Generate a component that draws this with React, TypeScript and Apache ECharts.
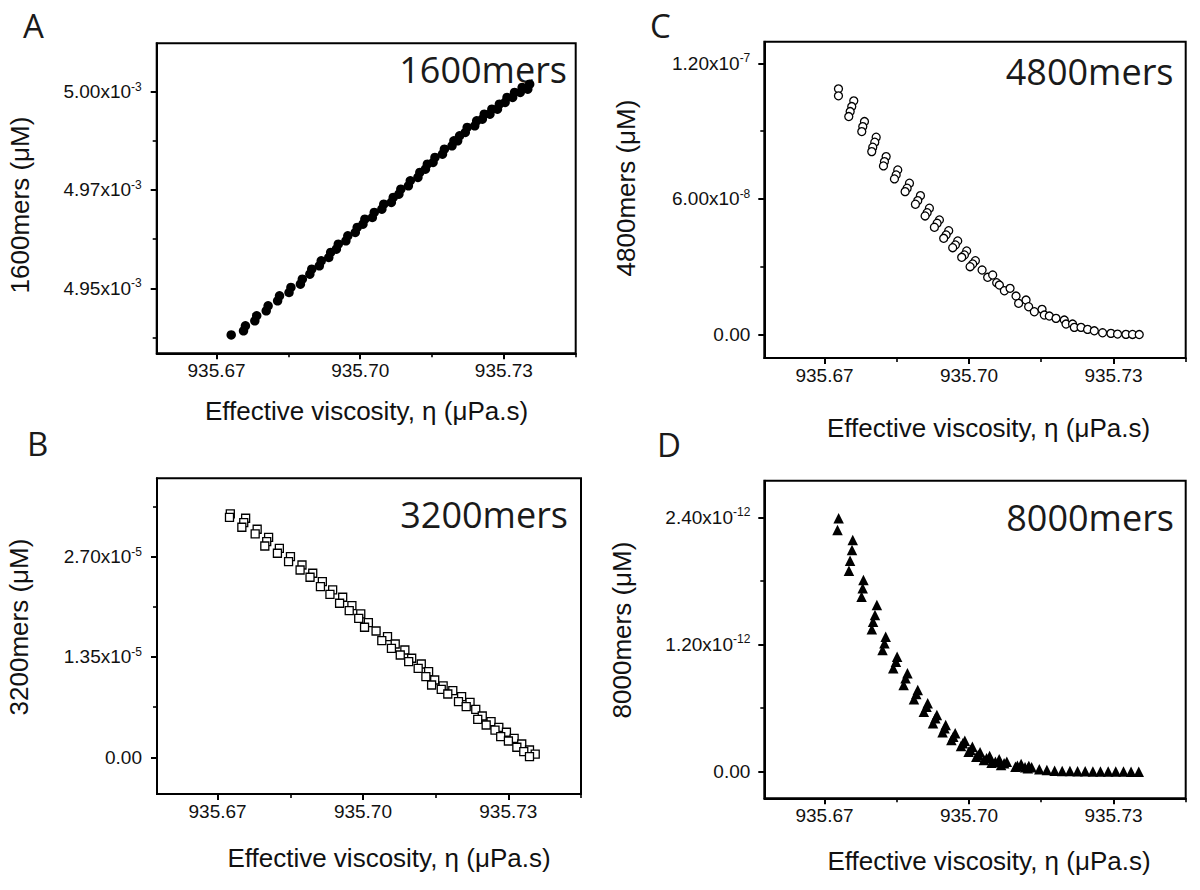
import React, { useEffect, useRef } from "react";
import * as echarts from "echarts";

// ---------- shared axis data ----------
const X_MIN = 935.6575;
const X_MAX = 935.745;
const X_MAJOR = [935.67, 935.7, 935.73];
const X_MINOR = [935.685, 935.715, 935.745];
const X_TITLE = "Effective viscosity, η (μPa.s)";

// ---------- panel A : 1600mers ----------
const A_x = [935.67306, 935.67563, 935.67603, 935.67799, 935.67839, 935.68037, 935.68077, 935.68275, 935.68315, 935.68513, 935.68553, 935.68751, 935.68791, 935.68948, 935.68988, 935.69146, 935.69186, 935.69343, 935.69383, 935.69502, 935.69542, 935.69701, 935.69741, 935.69897, 935.69937, 935.70057, 935.70097, 935.70253, 935.70293, 935.70452, 935.70492, 935.7065, 935.7069, 935.70808, 935.70848, 935.71006, 935.71046, 935.71205, 935.71245, 935.71362, 935.71402, 935.71521, 935.71561, 935.71718, 935.71758, 935.71917, 935.71957, 935.72035, 935.72075, 935.72194, 935.72234, 935.72392, 935.72432, 935.7255, 935.7259, 935.72709, 935.72749, 935.72866, 935.72906, 935.73026, 935.73066, 935.73183, 935.73223, 935.73342, 935.73382, 935.73499, 935.73539];
const A_y = [4.93813e-3, 4.93919e-3, 4.94047e-3, 4.94174e-3, 4.94302e-3, 4.94428e-3, 4.94556e-3, 4.94682e-3, 4.9481e-3, 4.94893e-3, 4.95021e-3, 4.95104e-3, 4.95232e-3, 4.95359e-3, 4.95487e-3, 4.95572e-3, 4.957e-3, 4.95783e-3, 4.95911e-3, 4.95994e-3, 4.96122e-3, 4.96208e-3, 4.96336e-3, 4.96419e-3, 4.96547e-3, 4.9663e-3, 4.96758e-3, 4.968e-3, 4.96928e-3, 4.97012e-3, 4.9714e-3, 4.97182e-3, 4.9731e-3, 4.97393e-3, 4.97521e-3, 4.97607e-3, 4.97735e-3, 4.97818e-3, 4.97946e-3, 4.98029e-3, 4.98157e-3, 4.98199e-3, 4.98327e-3, 4.9841e-3, 4.98538e-3, 4.98624e-3, 4.98752e-3, 4.98751e-3, 4.98879e-3, 4.98962e-3, 4.9909e-3, 4.99132e-3, 4.9926e-3, 4.993e-3, 4.99428e-3, 4.99427e-3, 4.99555e-3, 4.99555e-3, 4.99683e-3, 4.99725e-3, 4.99853e-3, 4.99852e-3, 4.9998e-3, 4.99979e-3, 5.00107e-3, 5.00063e-3, 5.00191e-3];
const A_yMajor = [4.95e-3, 4.975e-3, 5.0e-3];
const A_yMinor = [4.9375e-3, 4.9625e-3, 4.9875e-3];
const A_yLabels = ["4.95", "4.97", "5.00"];
const A_yExps = ["-3", "-3", "-3"];

// ---------- panel B : 3200mers ----------
const B_x = [935.67263, 935.67246, 935.67579, 935.6754, 935.67501, 935.67817, 935.67776, 935.68053, 935.68014, 935.67975, 935.68275, 935.68235, 935.68504, 935.68465, 935.68742, 935.68703, 935.68964, 935.68908, 935.69162, 935.69123, 935.69375, 935.69319, 935.69582, 935.69518, 935.69772, 935.69717, 935.69955, 935.69913, 935.70112, 935.70033, 935.70271, 935.70507, 935.70389, 935.70666, 935.70588, 935.70865, 935.7077, 935.71006, 935.70944, 935.71204, 935.7114, 935.71355, 935.71299, 935.71481, 935.71417, 935.71655, 935.71616, 935.71854, 935.71751, 935.72036, 935.71972, 935.7221, 935.72131, 935.72328, 935.72462, 935.72369, 935.72644, 935.72543, 935.72804, 935.72725, 935.72961, 935.72843, 935.7312, 935.73002, 935.73277, 935.73176, 935.73437, 935.73319, 935.73555, 935.73437];
const B_y = [3.275e-5, 3.23e-5, 3.217e-5, 3.158e-5, 3.096e-5, 3.069e-5, 3.006e-5, 2.961e-5, 2.902e-5, 2.844e-5, 2.813e-5, 2.746e-5, 2.7e-5, 2.633e-5, 2.588e-5, 2.521e-5, 2.477e-5, 2.423e-5, 2.364e-5, 2.296e-5, 2.252e-5, 2.194e-5, 2.154e-5, 2.073e-5, 2.041e-5, 1.973e-5, 1.929e-5, 1.871e-5, 1.812e-5, 1.75e-5, 1.7e-5, 1.623e-5, 1.569e-5, 1.525e-5, 1.467e-5, 1.444e-5, 1.377e-5, 1.333e-5, 1.287e-5, 1.256e-5, 1.198e-5, 1.152e-5, 1.085e-5, 1.04e-5, 9.73e-6, 9.6e-6, 9.15e-6, 8.96e-6, 8.52e-6, 8.16e-6, 7.48e-6, 7.4e-6, 6.81e-6, 6.46e-6, 5.56e-6, 5.11e-6, 4.79e-6, 4.35e-6, 4.04e-6, 3.67e-6, 3.37e-6, 2.77e-6, 2.56e-6, 2.19e-6, 1.79e-6, 1.35e-6, 9.8e-7, 7.5e-7, 4.4e-7, 8e-8];
const B_yMajor = [0, 1.35e-5, 2.7e-5];
const B_yMinor = [0.675e-5, 2.025e-5, 3.375e-5];
const B_yLabels = ["0.00", "1.35", "2.70"];
const B_yExps = ["", "-5", "-5"];

// ---------- panel C : 4800mers ----------
const C_x = [935.6729, 935.6729, 935.67608, 935.67566, 935.67533, 935.67504, 935.6783, 935.67795, 935.67774, 935.68073, 935.68044, 935.68002, 935.67981, 935.6828, 935.68245, 935.68224, 935.68521, 935.68488, 935.68452, 935.68764, 935.68716, 935.68674, 935.68992, 935.68936, 935.68888, 935.69178, 935.69131, 935.69089, 935.69386, 935.69338, 935.69282, 935.69579, 935.69525, 935.69475, 935.69766, 935.69718, 935.69662, 935.69952, 935.69905, 935.69849, 935.70133, 935.70077, 935.70023, 935.70272, 935.70388, 935.70492, 935.70575, 935.70631, 935.70735, 935.70853, 935.70977, 935.71031, 935.71185, 935.71239, 935.71357, 935.71517, 935.71564, 935.71668, 935.71807, 935.71979, 935.72015, 935.72151, 935.72187, 935.72326, 935.72463, 935.72602, 935.72774, 935.72948, 935.73085, 935.73259, 935.73396, 935.73535];
const C_y = [1.0871e-7, 1.0561e-7, 1.0339e-7, 1.0087e-7, 9.866e-8, 9.644e-8, 9.423e-8, 9.201e-8, 8.98e-8, 8.732e-8, 8.511e-8, 8.289e-8, 8.094e-8, 7.873e-8, 7.652e-8, 7.461e-8, 7.284e-8, 7.063e-8, 6.886e-8, 6.695e-8, 6.474e-8, 6.323e-8, 6.146e-8, 5.925e-8, 5.765e-8, 5.588e-8, 5.393e-8, 5.247e-8, 5.07e-8, 4.924e-8, 4.747e-8, 4.596e-8, 4.406e-8, 4.26e-8, 4.14e-8, 3.963e-8, 3.844e-8, 3.697e-8, 3.52e-8, 3.418e-8, 3.268e-8, 3.122e-8, 3.002e-8, 2.856e-8, 2.533e-8, 2.635e-8, 2.294e-8, 2.192e-8, 1.939e-8, 2.046e-8, 1.705e-8, 1.382e-8, 1.528e-8, 1.231e-8, 1.01e-8, 1.116e-8, 8.63e-9, 8.19e-9, 7.17e-9, 6.42e-9, 4.65e-9, 4.65e-9, 3.19e-9, 3.19e-9, 2.3e-9, 1.68e-9, 8.0e-10, 5.3e-10, 2.2e-10, 1.0e-10, 5e-11, 2e-11];
const C_yMajor = [0, 6e-8, 1.2e-7];
const C_yMinor = [3e-8, 9e-8];
const C_yLabels = ["0.00", "6.00", "1.20"];
const C_yExps = ["", "-8", "-7"];

// ---------- panel D : 8000mers ----------
const D_x = [935.67293, 935.6727, 935.67587, 935.67571, 935.67531, 935.67508, 935.67809, 935.67793, 935.6777, 935.68087, 935.68048, 935.68008, 935.67983, 935.6827, 935.68245, 935.68205, 935.68508, 935.68483, 935.68427, 935.68722, 935.68683, 935.68643, 935.68936, 935.68905, 935.68857, 935.69143, 935.69118, 935.69062, 935.69334, 935.69301, 935.69253, 935.69517, 935.69492, 935.69452, 935.69714, 935.69674, 935.69635, 935.69913, 935.69873, 935.69834, 935.70071, 935.70031, 935.69992, 935.7023, 935.70191, 935.70152, 935.70429, 935.70365, 935.70309, 935.70627, 935.70548, 935.70469, 935.70786, 935.7073, 935.70666, 935.71083, 935.71005, 935.70965, 935.71243, 935.71164, 935.71301, 935.71222, 935.71461, 935.71618, 935.71778, 935.71936, 935.72096, 935.72255, 935.72413, 935.72573, 935.7273, 935.7289, 935.73048, 935.73208, 935.73365, 935.73525];
const D_y = [2.391e-12, 2.28e-12, 2.186e-12, 2.092e-12, 1.991e-12, 1.896e-12, 1.808e-12, 1.73e-12, 1.651e-12, 1.573e-12, 1.478e-12, 1.415e-12, 1.343e-12, 1.274e-12, 1.211e-12, 1.148e-12, 1.085e-12, 1.038e-12, 9.75e-13, 9.28e-13, 8.81e-13, 8.18e-13, 7.71e-13, 7.33e-13, 6.83e-13, 6.45e-13, 6.13e-13, 5.66e-13, 5.35e-13, 5.04e-13, 4.57e-13, 4.41e-13, 4.09e-13, 3.72e-13, 3.62e-13, 3.3e-13, 2.99e-13, 2.92e-13, 2.68e-13, 2.42e-13, 2.36e-13, 2.05e-13, 1.89e-13, 1.83e-13, 1.58e-13, 1.42e-13, 1.48e-13, 1.26e-13, 1.1e-13, 1.17e-13, 9.4e-14, 8.5e-14, 9.4e-14, 7.9e-14, 6.3e-14, 7.3e-14, 5.7e-14, 4.7e-14, 5.4e-14, 4.2e-14, 4.2e-14, 3.2e-14, 2.3e-14, 1.6e-14, 1.0e-14, 7e-15, 6e-15, 4e-15, 3e-15, 2e-15, 2e-15, 1e-15, 1e-15, 1e-15, 0, 0];
const D_yMajor = [0, 1.2e-12, 2.4e-12];
const D_yMinor = [0.6e-12, 1.8e-12];
const D_yLabels = ["0.00", "1.20", "2.40"];
const D_yExps = ["", "-12", "-12"];

const FONT = '"Liberation Sans", Arial, Helvetica, sans-serif';
const PFONT = '"Open Sans", "Noto Sans", sans-serif';
const INK = "#111";

type Panel = {
  letter: string;
  name: string;
  xs: number[];
  ys: number[];
  yMajor: number[];
  yMinor: number[];
  yLabels: string[];
  yExps: string[];
  yMin: number;
  yMax: number;
  // layout
  left: number;
  top: number;
  width: number;
  height: number;
  symbol: string;
  size: number;
  filled: boolean;
  letterPos: [number, number];
  namePos: [number, number];
  yNamePos: [number, number];
  xTitlePos: [number, number];
  labelMargin: number;
};

const panels: Panel[] = [
  {
    letter: "A", name: "1600mers", xs: A_x, ys: A_y,
    yMajor: A_yMajor, yMinor: A_yMinor, yLabels: A_yLabels, yExps: A_yExps,
    yMin: 4.93347e-3, yMax: 5.0123e-3,
    left: 156.7, top: 43.3, width: 419, height: 310,
    symbol: "circle", size: 9.5, filled: true,
    letterPos: [23, 25], namePos: [567, 69.5], yNamePos: [20, 205], xTitlePos: [366.5, 411],
    labelMargin: 15,
  },
  {
    letter: "C", name: "4800mers", xs: C_x, ys: C_y,
    yMajor: C_yMajor, yMinor: C_yMinor, yLabels: C_yLabels, yExps: C_yExps,
    yMin: -1.036e-8, yMax: 1.2956e-7,
    left: 764.3, top: 41.7, width: 421.4, height: 316.3,
    symbol: "circle", size: 8, filled: false,
    letterPos: [650, 25], namePos: [1173.5, 71], yNamePos: [625.5, 188], xTitlePos: [988.5, 427.5],
    labelMargin: 14,
  },
  {
    letter: "B", name: "3200mers", xs: B_x, ys: B_y,
    yMajor: B_yMajor, yMinor: B_yMinor, yLabels: B_yLabels, yExps: B_yExps,
    yMin: -0.494e-5, yMax: 3.755e-5,
    left: 157, top: 478.3, width: 424, height: 315.7,
    symbol: "rect", size: 8, filled: false,
    letterPos: [27, 443], namePos: [568, 514], yNamePos: [18.5, 627], xTitlePos: [389, 857.5],
    labelMargin: 15,
  },
  {
    letter: "D", name: "8000mers", xs: D_x, ys: D_y,
    yMajor: D_yMajor, yMinor: D_yMinor, yLabels: D_yLabels, yExps: D_yExps,
    yMin: -0.251e-12, yMax: 2.745e-12,
    left: 764.3, top: 480.7, width: 421.4, height: 317.6,
    symbol: "triangle", size: 10.5, filled: true,
    letterPos: [657, 444], namePos: [1174, 517], yNamePos: [622, 630], xTitlePos: [989, 861],
    labelMargin: 14,
  },
];

function nearestIndex(list: number[], v: number): number {
  let best = 0;
  let bd = Infinity;
  list.forEach((t, i) => {
    const d = Math.abs(t - v);
    if (d < bd) { bd = d; best = i; }
  });
  return best;
}

function buildOption() {
  const grid: any[] = [];
  const xAxis: any[] = [];
  const yAxis: any[] = [];
  const series: any[] = [];
  const graphic: any[] = [];

  panels.forEach((p, i) => {
    grid.push({
      left: p.left, top: p.top, width: p.width, height: p.height,
      show: true, borderColor: "#000", borderWidth: 2, backgroundColor: "transparent",
      containLabel: false, outerBoundsMode: "none",
    });
    const lineStyle = { color: "#000", width: 2 };
    xAxis.push({
      type: "value", gridIndex: i, position: "bottom", min: X_MIN, max: X_MAX,
      axisLine: { show: true, onZero: false, lineStyle },
      axisTick: { show: true, inside: false, length: 6, customValues: X_MAJOR, lineStyle },
      axisLabel: {
        show: true, customValues: X_MAJOR, margin: 8,
        formatter: (v: number) => v.toFixed(2),
        fontSize: 19, fontFamily: FONT, color: INK,
      },
      splitLine: { show: false },
    });
    xAxis.push({
      type: "value", gridIndex: i, position: "bottom", min: X_MIN, max: X_MAX,
      axisLine: { show: false, onZero: false },
      axisTick: { show: true, inside: false, length: 4, customValues: X_MINOR, lineStyle: { color: "#000", width: 1.6 } },
      axisLabel: { show: false },
      splitLine: { show: false },
    });
    yAxis.push({
      type: "value", gridIndex: i, position: "left", min: p.yMin, max: p.yMax,
      axisLine: { show: true, onZero: false, lineStyle },
      axisTick: { show: true, inside: false, length: 6, customValues: p.yMajor, lineStyle },
      axisLabel: {
        show: true, customValues: p.yMajor, margin: p.labelMargin,
        formatter: (v: number) => {
          const k = nearestIndex(p.yMajor, v);
          const e = p.yExps[k];
          return e ? `{b|${p.yLabels[k]}x10}{s|${e}}` : `{b|${p.yLabels[k]}}`;
        },
        rich: {
          b: { fontSize: 19, fontFamily: FONT, color: INK, lineHeight: 22 },
          s: { fontSize: 12, fontFamily: FONT, color: INK, verticalAlign: "top", lineHeight: 12 },
        },
      },
      splitLine: { show: false },
    });
    yAxis.push({
      type: "value", gridIndex: i, position: "left", min: p.yMin, max: p.yMax,
      axisLine: { show: false, onZero: false },
      axisTick: { show: true, inside: false, length: 4, customValues: p.yMinor, lineStyle: { color: "#000", width: 1.6 } },
      axisLabel: { show: false },
      splitLine: { show: false },
    });
    const n = Math.min(p.xs.length, p.ys.length);
    const data: number[][] = [];
    for (let k = 0; k < n; k++) data.push([p.xs[k], p.ys[k]]);
    series.push({
      type: "scatter", name: p.name, xAxisIndex: 2 * i, yAxisIndex: 2 * i,
      data, symbol: p.symbol, symbolSize: p.size, clip: false,
      itemStyle: p.filled
        ? { color: "#000", borderWidth: 0, opacity: 1 }
        : { color: "#fff", borderColor: "#000", borderWidth: 1.3, opacity: 1 },
    });

    graphic.push({
      type: "text", x: p.letterPos[0], y: p.letterPos[1],
      style: { text: p.letter, fontSize: 33, fontFamily: PFONT, fill: "#1a1a1a", align: "left", verticalAlign: "middle" },
    });
    graphic.push({
      type: "text", x: p.namePos[0], y: p.namePos[1],
      style: { text: p.name, fontSize: 36, fontFamily: PFONT, fill: "#1a1a1a", align: "right", verticalAlign: "middle" },
    });
    graphic.push({
      type: "text", x: p.yNamePos[0], y: p.yNamePos[1], rotation: Math.PI / 2,
      style: { text: `${p.name} (μM)`, fontSize: 26, fontFamily: FONT, fill: INK, align: "center", verticalAlign: "middle" },
    });
    graphic.push({
      type: "text", x: p.xTitlePos[0], y: p.xTitlePos[1],
      style: { text: X_TITLE, fontSize: 26, fontFamily: FONT, fill: INK, align: "center", verticalAlign: "middle" },
    });
  });

  return {
    animation: false,
    backgroundColor: "#fff",
    grid, xAxis, yAxis, series, graphic,
  };
}

export default function App() {
  const ref = useRef<HTMLDivElement>(null);
  useEffect(() => {
    if (!ref.current) return;
    const chart = echarts.init(ref.current, undefined, { renderer: "svg" });
    chart.setOption(buildOption() as any);
    return () => chart.dispose();
  }, []);
  return (
    <div
      ref={ref}
      style={{ position: "absolute", left: 0, top: 0, width: 1200, height: 890, background: "#fff" }}
    />
  );
}
